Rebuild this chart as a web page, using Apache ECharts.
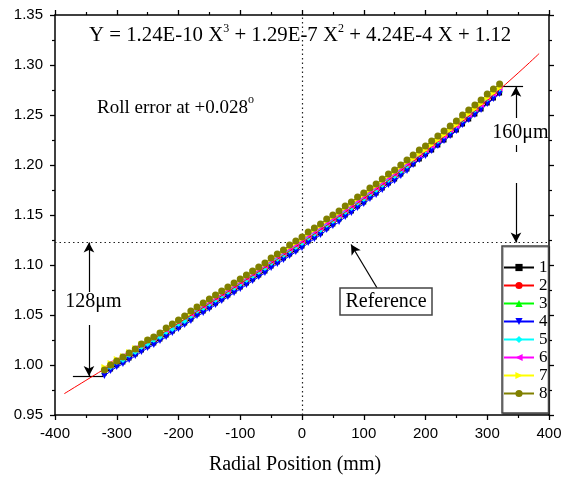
<!DOCTYPE html>
<html><head><meta charset="utf-8">
<script src="https://cdn.jsdelivr.net/npm/echarts@6/dist/echarts.min.js"></script>
<style>html,body{margin:0;padding:0;background:#fff}#c{width:569px;height:477px}</style>
</head><body><div id="c"></div>
<script>
const xPos = [-320,-310,-300,-290,-280,-270,-260,-250,-240,-230,-220,-210,-200,-190,-180,
-170,-160,-150,-140,-130,-120,-110,-100,-90,-80,-70,-60,-50,-40,-30,-20,-10,0,10,20,30,40,50,60,70,80,90,100,110,120,130,140,150,160,170,
180,190,200,210,220,230,240,250,260,270,280,290,300,310,320];

const s1 = [0.992,0.996,1.000,1.003,1.007,1.011,1.015,1.019,1.022,1.026,1.030,1.034,1.038,1.042,1.046,
1.051,1.054,1.058,1.062,1.066,1.070,1.074,1.078,1.082,1.086,1.090,1.094,1.099,1.103,1.107,1.111,1.115,1.119,1.124,1.128,1.132,1.137,1.141,1.146,1.150,1.154,1.159,1.163,1.168,1.172,1.177,1.182,1.186,1.191,1.196,
1.201,1.206,1.211,1.215,1.220,1.225,1.230,1.235,1.241,1.246,1.251,1.256,1.262,1.267,1.272];
const s2 = [0.993,0.997,1.001,1.004,1.008,1.012,1.016,1.020,1.023,1.027,1.031,1.035,1.039,1.043,1.047,
1.052,1.055,1.059,1.063,1.067,1.071,1.075,1.079,1.083,1.087,1.091,1.095,1.100,1.104,1.108,1.112,1.116,1.120,1.125,1.129,1.133,1.138,1.142,1.146,1.151,1.155,1.160,1.164,1.169,1.173,1.178,1.183,1.187,1.192,1.197,
1.203,1.208,1.212,1.217,1.222,1.227,1.232,1.237,1.243,1.248,1.253,1.258,1.264,1.269,1.274];
const s3 = [0.994,0.998,1.002,1.005,1.009,1.013,1.017,1.021,1.024,1.028,1.032,1.036,1.040,1.044,1.048,
1.053,1.056,1.060,1.064,1.068,1.072,1.076,1.080,1.084,1.088,1.092,1.096,1.101,1.105,1.109,1.113,1.117,1.121,1.126,1.130,1.134,1.139,1.143,1.147,1.152,1.156,1.161,1.165,1.170,1.174,1.179,1.184,1.188,1.193,1.198,
1.204,1.209,1.213,1.218,1.223,1.228,1.233,1.238,1.244,1.249,1.254,1.259,1.265,1.270,1.275];
const s4 = [0.989,0.994,0.998,1.001,1.005,1.009,1.013,1.017,1.020,1.024,1.028,1.032,1.036,1.040,1.044,
1.049,1.052,1.056,1.060,1.064,1.068,1.072,1.076,1.080,1.084,1.088,1.092,1.097,1.101,1.105,1.109,1.113,1.117,1.122,1.126,1.130,1.135,1.139,1.143,1.148,1.152,1.157,1.161,1.166,1.170,1.175,1.180,1.184,1.189,1.194,
1.200,1.205,1.209,1.214,1.219,1.224,1.229,1.234,1.240,1.245,1.250,1.255,1.261,1.266,1.271];
const s5 = [0.995,0.998,1.003,1.005,1.010,1.013,1.018,1.021,1.025,1.028,1.033,1.036,1.041,1.044,1.049,
1.054,1.057,1.061,1.065,1.069,1.073,1.077,1.081,1.085,1.089,1.093,1.097,1.102,1.106,1.110,1.114,1.118,1.122,1.127,1.131,1.135,1.140,1.144,1.148,1.153,1.157,1.162,1.166,1.171,1.175,1.180,1.185,1.189,1.194,1.199,
1.205,1.210,1.214,1.219,1.224,1.229,1.234,1.239,1.245,1.250,1.255,1.260,1.266,1.271,1.276];
const s6 = [0.997,1.002,1.005,1.009,1.012,1.017,1.020,1.025,1.027,1.032,1.035,1.040,1.043,1.048,1.051,
1.056,1.059,1.063,1.067,1.071,1.075,1.079,1.083,1.087,1.091,1.095,1.099,1.104,1.108,1.112,1.116,1.120,1.124,1.129,1.133,1.137,1.142,1.146,1.150,1.155,1.159,1.164,1.168,1.173,1.177,1.182,1.187,1.191,1.196,1.201,
1.206,1.210,1.215,1.219,1.225,1.229,1.235,1.239,1.246,1.250,1.256,1.260,1.267,1.271,1.277];
const s7 = [0.998,1.002,1.006,1.009,1.013,1.017,1.021,1.025,1.028,1.032,1.036,1.040,1.044,1.048,1.052,
1.058,1.061,1.065,1.069,1.073,1.077,1.081,1.085,1.089,1.093,1.097,1.101,1.106,1.110,1.114,1.118,1.122,1.126,1.131,1.135,1.139,1.144,1.148,1.152,1.157,1.161,1.166,1.170,1.175,1.179,1.184,1.189,1.193,1.198,1.203,
1.206,1.211,1.215,1.220,1.225,1.230,1.235,1.240,1.246,1.251,1.256,1.261,1.267,1.272,1.277];
const s8 = [0.995,1.000,1.004,1.008,1.012,1.016,1.021,1.025,1.028,1.032,1.037,1.041,1.045,1.049,1.054,
1.058,1.062,1.066,1.070,1.074,1.078,1.082,1.086,1.090,1.094,1.098,1.102,1.107,1.111,1.115,1.120,1.124,1.128,1.133,1.137,1.141,1.146,1.150,1.154,1.159,1.163,1.168,1.172,1.177,1.181,1.186,1.191,1.195,1.200,1.205,
1.210,1.215,1.219,1.224,1.229,1.234,1.239,1.244,1.250,1.255,1.260,1.265,1.271,1.276,1.281];

const fitX = [-385,-350,-300,-250,-200,-150,-100,-50,0,50,100,150,200,250,300,350,384];
const fitY = [0.9713,0.9846,1.0036,1.0226,1.0419,1.0614,1.0813,1.1016,1.1225,1.1440,1.1663,1.1894,1.2135,1.2385,1.2647,1.2920,1.3114];

const seriesNames = ['1','2','3','4','5','6','7','8'];
const seriesColors = ['#000000','#ff0000','#00ff00','#0000ff','#00ffff','#ff00ff','#ffff00','#808000'];

const refLevel = 1.1225;

const chart = echarts.init(document.getElementById('c'));
const serif = 'Liberation Serif';
const sans = 'Liberation Sans';

const ys = [s1,s2,s3,s4,s5,s6,s7,s8];
const syms = [
  {symbol:'rect', size:5, rot:0},
  {symbol:'circle', size:5, rot:0},
  {symbol:'triangle', size:6, rot:0},
  {symbol:'triangle', size:6, rot:180},
  {symbol:'diamond', size:6, rot:0},
  {symbol:'triangle', size:6, rot:90},
  {symbol:'triangle', size:6, rot:-90},
  {symbol:'circle', size:7, rot:0}
];

const lineSeries = ys.map((arr, k) => ({
  name: seriesNames[k], type: 'line', xAxisIndex: 0, yAxisIndex: 0,
  data: xPos.map((x, i) => [x, arr[i]]),
  symbol: syms[k].symbol, symbolSize: syms[k].size, symbolRotate: syms[k].rot,
  showSymbol: true,
  lineStyle: {width: 1, color: seriesColors[k]},
  itemStyle: {color: seriesColors[k]},
  z: 2 + k
}));

const fitSeries = {
  name: 'fit', type: 'line', smooth: true, showSymbol: false, symbol: 'none',
  data: fitX.map((x,i)=>[x, fitY[i]]),
  lineStyle: {width: 1, color: '#ff0000'}, z: 8,
  markLine: {
    silent: true, symbol: ['none','none'], symbolSize: [8, 10],
    label: {show:false},
    lineStyle: {color:'#000', width:1.2, type:'solid'},
    data: [
      [{coord:[0,0.95], lineStyle:{type:[1.5,3], color:'#222'}}, {coord:[0,1.35]}],
      [{coord:[-400,refLevel], lineStyle:{type:[1.5,3], color:'#222'}}, {coord:[400,refLevel]}],
      [{coord:[-345,1.073]}, {coord:[-345,refLevel], symbol:'arrow'}],
      [{coord:[-345,1.040]}, {coord:[-345,0.989], symbol:'arrow'}],
      [{coord:[-371,0.989]}, {coord:[-322,0.989]}],
      [{coord:[325,1.2783]}, {coord:[358,1.2783]}],
      [{coord:[346.5,1.247]}, {coord:[346.5,1.2783], symbol:'arrow'}],
      [{coord:[346.5,1.220]}, {coord:[346.5,1.213]}],
      [{coord:[346.5,1.182]}, {coord:[346.5,refLevel], symbol:'arrow'}],
      [{coord:[121.6,1.077]}, {coord:[79.4,1.1205], symbol:'arrow'}]
    ]
  }
};

const axisCommon = {
  type: 'value',
  axisLine: {show:true, onZero:false, lineStyle:{color:'#000', width:1.5}},
  axisTick: {show:true, inside:false, length:5, lineStyle:{color:'#000', width:1.3}},
  minorTick: {show:true, splitNumber:2, length:3, lineStyle:{color:'#000', width:1.2}},
  splitLine: {show:false},
  minorSplitLine: {show:false}
};

const supStyle = {fontFamily: serif, fontSize: 12, verticalAlign:'top', fill:'#000'};

const option = {
  animation: false,
  backgroundColor: '#fff',
  grid: {left:55, right:20, top:15, bottom:62, containLabel:false},
  xAxis: [
    Object.assign({}, axisCommon, {min:-400, max:400, interval:100, position:'bottom',
      axisLabel:{show:true, fontFamily:sans, fontSize:15, color:'#000', margin:11}}),
    Object.assign({}, axisCommon, {min:-400, max:400, interval:100, position:'top',
      axisLabel:{show:false}})
  ],
  yAxis: [
    Object.assign({}, axisCommon, {min:0.95, max:1.35, interval:0.05, position:'left',
      axisLabel:{show:true, fontFamily:sans, fontSize:15, color:'#000', margin:12,
        formatter: v => v.toFixed(2)}}),
    Object.assign({}, axisCommon, {min:0.95, max:1.35, interval:0.05, position:'right',
      axisLabel:{show:false}})
  ],
  legend: {
    data: seriesNames,
    orient: 'vertical', left: 502, top: 246,
    padding: [13, 1, 11, 1],
    itemWidth: 30, itemHeight: 9, itemGap: 1,
    backgroundColor: '#fff',
    borderColor: '#444', borderWidth: 1.5,
    shadowColor: 'rgba(0,0,0,0.35)', shadowOffsetX: 1, shadowOffsetY: 1, shadowBlur: 0,
    textStyle: {fontFamily: serif, fontSize: 17, color:'#000'}
  },
  series: lineSeries.slice(0,7).concat([fitSeries, lineSeries[7]]),
  graphic: [
    {type:'text', left: 89, top: 23, z: 100,
      style:{text:'{m|Y = 1.24E-10 X}{s|3}{m| + 1.29E-7 X}{s|2}{m| + 4.24E-4 X + 1.12}',
        fontFamily: serif, fontSize: 20.8, fill:'#000',
        rich:{m:{fontFamily: serif, fontSize: 20.8, fill:'#000', verticalAlign:'bottom', padding:[2,0,0,0]}, s: supStyle}}},
    {type:'text', left: 97, top: 94, z: 100,
      style:{text:'{m|Roll error at +0.028}{s|o}', fontFamily: serif, fontSize: 19, fill:'#000',
        rich:{m:{fontFamily: serif, fontSize: 19, fill:'#000', verticalAlign:'bottom', padding:[5,0,0,0]}, s: supStyle}}},
    {type:'text', x: 93.5, y: 302, z: 100,
      style:{text:'128\u03bcm', fontFamily: serif, fontSize: 20, fill:'#000', align:'center', verticalAlign:'middle'}},
    {type:'text', x: 520.5, y: 133, z: 100,
      style:{text:'160\u03bcm', fontFamily: serif, fontSize: 20, fill:'#000', align:'center', verticalAlign:'middle'}},
    {type:'rect', shape:{x:340, y:288, width:92, height:27}, z: 100,
      style:{fill:'#fff', stroke:'#444', lineWidth:1.5}},
    {type:'text', x: 386, y: 302, z: 101,
      style:{text:'Reference', fontFamily: serif, fontSize: 20, fill:'#000', align:'center', verticalAlign:'middle'}},
    {type:'text', x: 295, y: 465, z: 100,
      style:{text:'Radial Position (mm)', fontFamily: serif, fontSize: 20, fill:'#000', align:'center', verticalAlign:'middle'}}
  ]
};
chart.setOption(option);
</script>
</body></html>
